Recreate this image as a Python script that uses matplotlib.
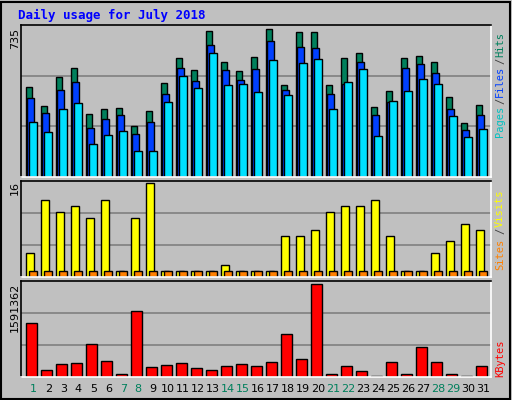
import matplotlib
matplotlib.use("Agg")
import matplotlib.pyplot as plt
import numpy as np

days = list(range(1, 32))
weekend = [1, 7, 8, 14, 15, 21, 22, 28, 29]
hits = [446,351,496,545,316,336,341,256,331,466,590,535,725,570,530,595,735,456,720,720,456,590,615,346,426,590,600,570,396,271,356]
files = [391,321,431,471,246,291,311,216,276,411,545,476,655,535,481,540,675,431,645,640,411,461,570,311,371,545,560,516,336,236,311]
pages = [276,226,336,366,166,211,231,131,131,371,501,441,615,456,461,421,580,406,565,585,336,471,540,206,376,426,486,461,306,201,241]
visits = [4,13,11,12,10,13,1,10,16,1,1,1,1,2,1,1,1,7,7,8,11,12,12,13,7,1,1,4,6,9,8]
sites = [1]*31
kbytes = [935000,116000,221000,238000,563000,273000,58000,1138000,168000,203000,238000,151000,116000,186000,221000,186000,256000,738000,308000,1591362,58000,186000,99000,23000,256000,58000,511000,256000,58000,23000,186000]

W, H = 512, 400
BG = "#C0C0C0"
fig = plt.figure(figsize=(W/100, H/100), dpi=100)
fig.patch.set_facecolor(BG)
mono = "DejaVu Sans Mono"
XL = (0.49, 31.85)

def ax_at(x0, y0, x1, y1):
    return fig.add_axes([x0/W, 1-y1/H, (x1-x0)/W, (y1-y0)/H])

def style(ax, top):
    ax.set_facecolor(BG)
    ax.set_xlim(*XL)
    ax.set_ylim(0, top)
    ax.set_xticks([]); ax.set_yticks([])
    for y in (top/3, 2*top/3):
        ax.axhline(y, color="#808080", lw=1.2, zorder=0)
    for s in ("top", "left"):
        ax.spines[s].set_color("black")
    for s in ("bottom", "right"):
        ax.spines[s].set_color("white")
    for s in ax.spines.values():
        s.set_linewidth(1.2)

d = np.array(days)
ek = dict(edgecolor="black", linewidth=1, align="edge")

ax1 = ax_at(20.7, 25, 491, 177)
top1 = 735*455/442
style(ax1, top1)
ax1.bar(d-0.17, hits, 0.44, color="#00805C", **ek)
ax1.bar(d-0.07, files, 0.48, color="#0040FF", **ek)
ax1.bar(d+0.05, pages, 0.50, color="#00E0FF", **ek)

ax2 = ax_at(20.7, 180.7, 491, 276.7)
top2 = 16*283/277
style(ax2, top2)
ax2.bar(d-0.17, visits, 0.52, color="#FFFF00", **ek)
ax2.bar(d+0.06, sites, 0.49, color="#FF8000", **ek)

ax3 = ax_at(20.7, 280.7, 491, 377)
top3 = 1591362*285/274
style(ax3, top3)
ax3.bar(d-0.15, kbytes, 0.70, color="#FF0000", **ek)

for i in days:
    fig.text((33.3 + (i-1)*15)/W, 1-389/H, str(i), ha="center", va="center",
             fontsize=8, family="DejaVu Sans", color="#00805C" if i in weekend else "black")

fig.text(18/W, 1-15/H, "Daily usage for July 2018", color="#0000FF", family=mono,
         fontweight="bold", fontsize=9, va="center")
fig.text(15/W, 1-28/H, "735", rotation=90, ha="center", va="top", fontsize=8)
fig.text(15/W, 1-181/H, "16", rotation=90, ha="center", va="top", fontsize=8)
fig.text(15/W, 1-283/H, "1591362", rotation=90, ha="center", va="top", fontsize=8)

def rtext(y_bottom, s, c):
    fig.text(500/W, 1-y_bottom/H, s, rotation=90, ha="center", va="bottom",
             color=c, family=mono, fontsize=7.5)
rtext(137, "Pages", "#00C0C0")
rtext(104, "/", "#404040")
rtext(97, "Files", "#0040FF")
rtext(64, "/", "#404040")
rtext(57, "Hits", "#00805C")
rtext(270, "Sites", "#FF8000")
rtext(234, "/", "#404040")
rtext(227, "Visits", "#FFFF00")
rtext(377, "KBytes", "#FF0000")

fig.add_artist(plt.Rectangle((1/W, 1/H), (W-3)/W, (H-3)/H, transform=fig.transFigure,
                             fill=False, edgecolor="black", lw=1.5))
fig.savefig("out.png", dpi=100, facecolor=BG)
